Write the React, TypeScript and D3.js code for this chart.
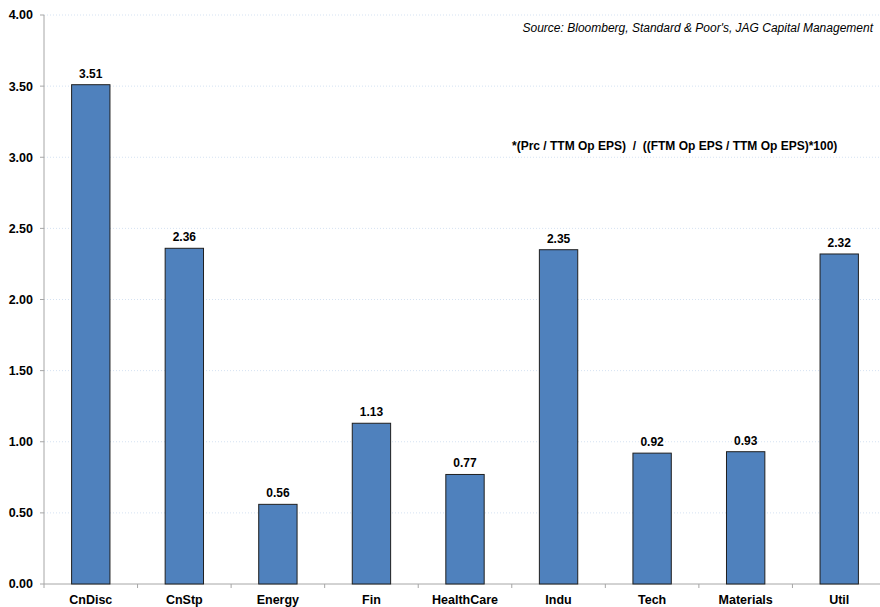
import * as React from "react";
import * as d3 from "d3";

const sectors = ["CnDisc", "CnStp", "Energy", "Fin", "HealthCare", "Indu", "Tech", "Materials", "Util"];
const ratios = [3.51, 2.36, 0.56, 1.13, 0.77, 2.35, 0.92, 0.93, 2.32];
const yTicks = [0, 0.5, 1, 1.5, 2, 2.5, 3, 3.5, 4];
const sourceNote = "Source: Bloomberg, Standard & Poor's, JAG Capital Management";
const formulaNote = "*(Prc / TTM Op EPS)  /  ((FTM Op EPS / TTM Op EPS)*100)";

const W = 880;
const H = 607;
const margin = { top: 15, right: -6, bottom: 23, left: 44 };
const font = "'Liberation Sans', Arial, sans-serif";

export default function App() {
  const x = d3.scaleBand<string>()
    .domain(sectors)
    .range([margin.left, W - margin.right])
    .paddingInner(0.59)
    .paddingOuter(0.295);
  const y = d3.scaleLinear().domain([0, 4]).range([H - margin.bottom, margin.top]);
  const step = x.step();
  const x0 = margin.left;
  const x1 = W - margin.right;
  const fmt = d3.format(".2f");

  return (
    <svg width={W} height={H} style={{ position: "absolute", left: 0, top: 0, background: "#fff" }}
      fontFamily={font}>
      {/* gridlines */}
      {yTicks.filter(t => t > 0).map(t => (
        <line key={t} x1={x0} x2={x1} y1={y(t)} y2={y(t)}
          stroke="#D5E2F2" strokeWidth={1} strokeDasharray="1,2" />
      ))}
      {/* y axis */}
      <line x1={x0} x2={x0} y1={y(4)} y2={y(0)} stroke="#A6A6A6" />
      {yTicks.map(t => (
        <g key={t}>
          <line x1={x0 - 4} x2={x0} y1={y(t)} y2={y(t)} stroke="#A6A6A6" />
          <text x={x0 - 11} y={y(t)} dy="0.35em" textAnchor="end" fontSize={12.5} fontWeight="bold">
            {fmt(t)}
          </text>
        </g>
      ))}
      {/* x axis */}
      <line x1={x0} x2={x1} y1={y(0)} y2={y(0)} stroke="#A6A6A6" />
      {sectors.map((s, i) => (
        <line key={s} x1={x0 + i * step} x2={x0 + i * step} y1={y(0)} y2={y(0) + 4} stroke="#A6A6A6" />
      ))}
      {/* bars */}
      {sectors.map((s, i) => (
        <g key={s}>
          <rect x={x(s)} y={y(ratios[i])} width={x.bandwidth()} height={y(0) - y(ratios[i])}
            fill="#4F81BD" stroke="#1F1F1F" strokeWidth={1} />
          <text x={x(s)! + x.bandwidth() / 2} y={y(ratios[i]) - 7} textAnchor="middle"
            fontSize={12} fontWeight="bold">{fmt(ratios[i])}</text>
          <text x={x(s)! + x.bandwidth() / 2} y={y(0) + 20} textAnchor="middle"
            fontSize={12.5} fontWeight="bold">{s}</text>
        </g>
      ))}
      <text x={873} y={32} textAnchor="end" fontSize={12} fontStyle="italic">{sourceNote}</text>
      <text x={512} y={150} fontSize={12} fontWeight="bold" style={{ whiteSpace: "pre" }}>{formulaNote}</text>
    </svg>
  );
}
